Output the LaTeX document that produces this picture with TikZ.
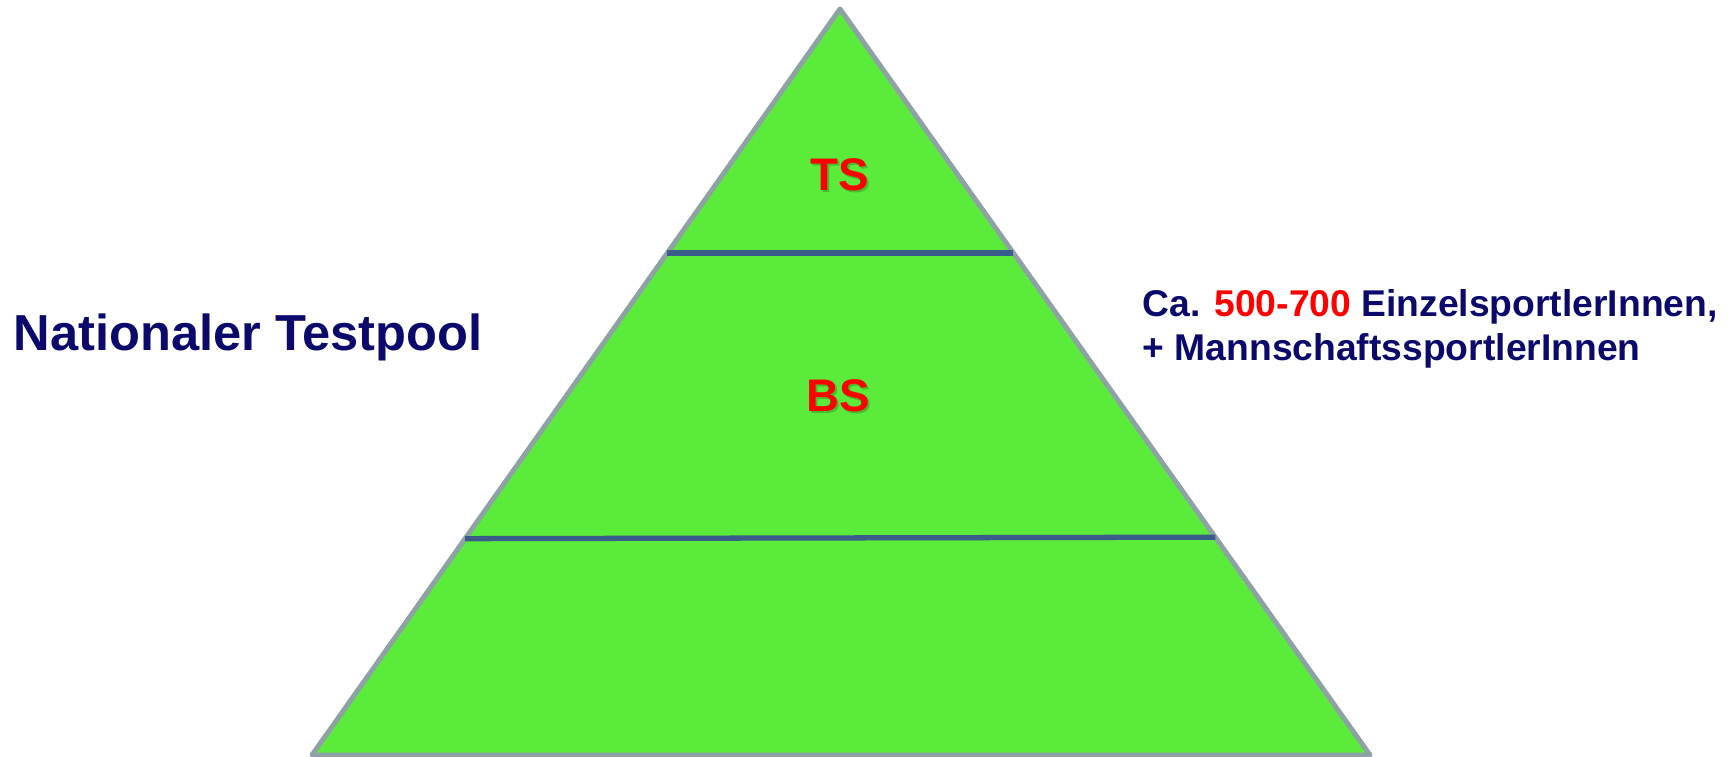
\documentclass[tikz,border=0pt]{standalone}
\usepackage{fontspec}
\setmainfont{Liberation Sans}
\usetikzlibrary{calc}

\definecolor{pyrgreen}{HTML}{5BEB3A}
\definecolor{pyrgray}{HTML}{8EA2A6}
\definecolor{pyrline}{HTML}{3A5C8A}
\definecolor{pyrnavy}{HTML}{0B0A6C}
\definecolor{pyrred}{HTML}{FF0000}

\begin{document}
\begin{tikzpicture}[
	level/.style={font=\bfseries\fontsize{13}{15}\selectfont, text=pyrred, inner sep=0pt, anchor=base},
	levelshadow/.style={level, text=black, opacity=0.2},
	caption/.style={font=\bfseries, text=pyrnavy, inner sep=0pt, anchor=base west},
]

\def\width{17.33}
\def\height{7.57}
\path [use as bounding box] (0,-\height) rectangle (\width,0);

\coordinate (top) at (8.40,-0.09);
\coordinate (bl) at (3.12,-7.55);
\coordinate (br) at (13.70,-7.55);

% PYRAMID
\filldraw [line width=1.4pt, line join=round, draw=pyrgray, fill=pyrgreen]
	(top) -- (bl) -- (br) -- cycle;

% LEVEL LINES
\draw [line width=1.5pt, pyrline]
	($(top)!0.327!(bl)$) -- ($(top)!0.327!(br)$);
\draw [line width=1.5pt, pyrline]
	($(top)!0.71!(bl)$) -- ($(top)!0.708!(br)$);

% LABELS
\node [levelshadow] (tss) at (8.42,-1.93) {TS};
\node [level] (ts) at (8.40,-1.91) {TS};
\node [levelshadow] (bss) at (8.40,-4.14) {BS};
\node [level] (bs) at (8.38,-4.12) {BS};

\node [caption, font=\bfseries\fontsize{14.4}{17}\selectfont] (pool) at (0.13,-3.51) {Nationaler Testpool};

\node [caption, font=\bfseries\fontsize{10.6}{12}\selectfont] (cnt) at (11.42,-3.17)
	{Ca. \textcolor{pyrred}{500-700} EinzelsportlerInnen,};
\node [caption, font=\bfseries\fontsize{10.6}{12}\selectfont] (team) at (11.42,-3.61)
	{+ MannschaftssportlerInnen};

\end{tikzpicture}
\end{document}
